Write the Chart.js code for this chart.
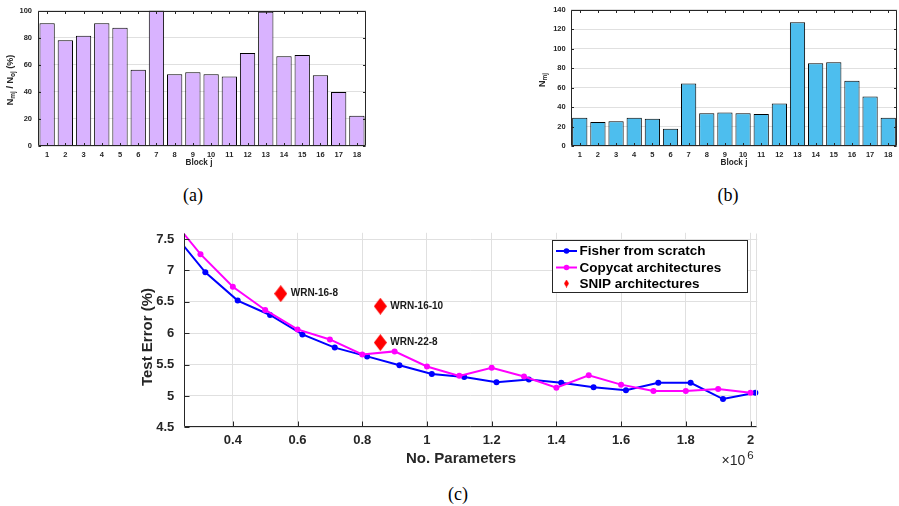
<!DOCTYPE html>
<html>
<head>
<meta charset="utf-8">
<script src="https://cdn.jsdelivr.net/npm/chart.js@4.4.0/dist/chart.umd.min.js"></script>
<style>
  body { margin:0; background:#fff; width:899px; height:506px; position:relative; overflow:hidden; }
  canvas { position:absolute; }
  .cap { position:absolute; font-family:"Liberation Serif","DejaVu Serif",serif; font-size:18px; color:#000; transform:translate(-50%,-50%); }
</style>
</head>
<body>
<canvas id="ca" width="380" height="175" style="left:0;top:0"></canvas>
<canvas id="cb" width="409" height="175" style="left:490px;top:0"></canvas>
<canvas id="cc" width="700" height="265" style="left:100px;top:215px"></canvas>
<div class="cap" style="left:193px;top:195px">(a)</div>
<div class="cap" style="left:728px;top:195px">(b)</div>
<div class="cap" style="left:458px;top:494px">(c)</div>
<script>
// data
const blocks = ['1','2','3','4','5','6','7','8','9','10','11','12','13','14','15','16','17','18'];
const ratioPct = [90.5, 78, 81.3, 90.5, 87.3, 56.2, 100, 53, 54.5, 53, 51.3, 68.6, 99, 66.2, 67.2, 52.3, 39.9, 22.4];
const nmj = [29, 24.5, 25.5, 29, 28, 17.7, 64, 33.7, 34.4, 33.7, 32.7, 43.6, 127, 84.8, 85.8, 67, 50.7, 29];
const ratioTicks = [0, 20, 40, 60, 80, 100];
const nmjTicks = [0, 20, 40, 60, 80, 100, 120, 140];

// x in millions of parameters
const fisherX = [0.215, 0.315, 0.415, 0.515, 0.615, 0.715, 0.815, 0.915, 1.015, 1.115, 1.215, 1.315, 1.415, 1.515, 1.615, 1.715, 1.815, 1.915, 2.015];
const fisherErr = [7.60, 6.97, 6.52, 6.29, 5.98, 5.77, 5.63, 5.49, 5.35, 5.30, 5.22, 5.26, 5.21, 5.14, 5.09, 5.21, 5.21, 4.95, 5.05];
const copycatX = [0.2, 0.3, 0.4, 0.5, 0.6, 0.7, 0.8, 0.9, 1.0, 1.1, 1.2, 1.3, 1.4, 1.5, 1.6, 1.7, 1.8, 1.9, 2.0];
const copycatErr = [7.89, 7.26, 6.74, 6.37, 6.06, 5.90, 5.66, 5.71, 5.47, 5.32, 5.45, 5.31, 5.13, 5.33, 5.18, 5.08, 5.08, 5.11, 5.05];
const snipNames = ['WRN-16-8', 'WRN-16-10', 'WRN-22-8'];
const snipX = [0.548, 0.856, 0.856];
const snipErr = [6.63, 6.43, 5.85];
const xTicksC = [0.4, 0.6, 0.8, 1.0, 1.2, 1.4, 1.6, 1.8, 2.0];
const yTicksC = [4.5, 5, 5.5, 6, 6.5, 7, 7.5];

const AX = '#262626', GRID = '#e0e0e0', FF = '"Liberation Sans", Arial, sans-serif';

// box / axis lines with MATLAB style inward ticks
function frame(box, tl) {
  return {
    id: 'frame',
    afterDatasetsDraw(chart) {
      const {ctx, chartArea: a, scales: {x, y}} = chart;
      const L = Math.round(a.left) + 0.5, R = Math.round(a.right) - 0.5;
      const T = Math.round(a.top) + 0.5, B = Math.round(a.bottom) - 0.5;
      ctx.save();
      if (!box) {
        ctx.strokeStyle = GRID; ctx.lineWidth = 1;
        ctx.beginPath(); ctx.moveTo(R, T); ctx.lineTo(R, B); ctx.stroke();
      }
      ctx.strokeStyle = AX; ctx.lineWidth = 1;
      ctx.beginPath();
      if (box) ctx.rect(L, T, R - L, B - T);
      else { ctx.moveTo(L, T); ctx.lineTo(L, B); ctx.lineTo(R, B); }
      x.ticks.forEach((t, i) => {
        const px = Math.round(x.getPixelForTick(i)) + 0.5;
        ctx.moveTo(px, B); ctx.lineTo(px, B - tl);
        if (box) { ctx.moveTo(px, T); ctx.lineTo(px, T + tl); }
      });
      y.ticks.forEach((t, i) => {
        const py = Math.round(y.getPixelForTick(i)) + 0.5;
        ctx.moveTo(L, py); ctx.lineTo(L + tl, py);
        if (box) { ctx.moveTo(R, py); ctx.lineTo(R - tl, py); }
      });
      ctx.stroke();
      ctx.restore();
    }
  };
}

// free text with sub/superscript parts
function texts(items) {
  return {
    id: 'texts',
    afterDraw(chart) {
      const ctx = chart.ctx;
      items.forEach(it => {
        ctx.save();
        ctx.translate(it.x, it.y);
        if (it.rot) ctx.rotate(it.rot);
        ctx.fillStyle = AX;
        ctx.textBaseline = 'middle';
        ctx.textAlign = 'left';
        let total = 0;
        it.parts.forEach(p => { ctx.font = p.f; total += ctx.measureText(p.t).width + (p.gap || 0); });
        let cx = it.left ? 0 : -total / 2;
        it.parts.forEach(p => {
          ctx.font = p.f;
          cx += p.gap || 0;
          ctx.fillText(p.t, cx, p.dy || 0);
          cx += ctx.measureText(p.t).width;
        });
        ctx.restore();
      });
    }
  };
}

function barChart(id, values, ticks, ymax, fill, yw, padR, lblPad, extra) {
  return new Chart(document.getElementById(id), {
    type: 'bar',
    data: { labels: blocks, datasets: [{ data: values, backgroundColor: fill, borderColor: '#000', borderWidth: 1, barPercentage: 0.84, categoryPercentage: 1 }] },
    options: {
      responsive: false, animation: false,
      layout: { padding: { left: 0, right: padR, top: 9, bottom: 0 } },
      plugins: { legend: { display: false }, tooltip: { enabled: false } },
      scales: {
        x: {
          grid: { display: false, drawTicks: false }, border: { display: false },
          ticks: { color: AX, font: { family: FF, size: 7.5, weight: 'bold' }, padding: 4, maxRotation: 0, autoSkip: false },
          afterFit: s => { s.height = 29; }
        },
        y: {
          min: 0, max: ymax,
          grid: { color: GRID, drawTicks: false }, border: { display: false },
          ticks: { color: AX, font: { family: FF, size: 7.5, weight: 'bold' }, padding: lblPad },
          afterBuildTicks: s => { s.ticks = ticks.map(v => ({ value: v })); },
          afterFit: s => { s.width = yw; }
        }
      }
    },
    plugins: [frame(true, 2.5), texts(extra)]
  });
}

const fb = 'bold 9px ' + FF, fs = 'bold 6.5px ' + FF;
barChart('ca', ratioPct, ratioTicks, 100, '#d9b3ff', 38, 14, 6, [
  { x: 199, y: 163, parts: [{ t: 'Block j', f: 'bold 8.2px ' + FF }] },
  { x: 11, y: 80, rot: -Math.PI / 2, parts: [
    { t: 'N', f: fb }, { t: 'mj', f: fs, dy: 2.5 }, { t: ' / N', f: fb }, { t: 'oj', f: fs, dy: 2.5 }, { t: ' (%)', f: fb }
  ] }
]);
barChart('cb', nmj, nmjTicks, 140, '#4dbeee', 80.7, 1.7, 5, [
  { x: 244, y: 163, parts: [{ t: 'Block j', f: 'bold 8.2px ' + FF }] },
  { x: 53, y: 80, rot: -Math.PI / 2, parts: [{ t: 'N', f: fb }, { t: 'mj', f: fs, dy: 2.5 }] }
]);

function diamond(w, h) {
  const c = document.createElement('canvas'); c.width = w; c.height = h;
  const g = c.getContext('2d'); g.fillStyle = '#ff0000';
  g.beginPath(); g.moveTo(w / 2, 0); g.lineTo(w, h / 2); g.lineTo(w / 2, h); g.lineTo(0, h / 2); g.closePath(); g.fill();
  return c;
}
const bigDiamond = diamond(13, 17), smallDiamond = diamond(5, 8);

const legendC = {
  id: 'legendC',
  afterDraw(chart) {
    const ctx = chart.ctx;
    const bx = 452.5, by = 25.5, bw = 195, bh = 52, rows = [10.5, 27, 43];
    ctx.save();
    ctx.fillStyle = '#fff'; ctx.fillRect(bx, by, bw, bh);
    ctx.strokeStyle = AX; ctx.lineWidth = 1; ctx.strokeRect(bx, by, bw, bh);
    chart.data.datasets.forEach((ds, i) => {
      const cy = by + rows[i];
      if (ds.showLine !== false) {
        ctx.strokeStyle = ds.borderColor; ctx.lineWidth = 2;
        ctx.beginPath(); ctx.moveTo(456, cy); ctx.lineTo(477, cy); ctx.stroke();
        ctx.fillStyle = ds.borderColor;
        ctx.beginPath(); ctx.arc(466.5, cy, 2.8, 0, Math.PI * 2); ctx.fill();
      } else {
        ctx.drawImage(smallDiamond, 464, cy - 4);
      }
      ctx.fillStyle = '#000'; ctx.font = 'bold 13.5px ' + FF;
      ctx.textBaseline = 'middle'; ctx.textAlign = 'left';
      ctx.fillText(ds.label, 479.5, cy + 0.5);
    });
    ctx.restore();
  }
};

const snipLabels = {
  id: 'snipLabels',
  afterDatasetsDraw(chart) {
    const {ctx, scales: {x, y}} = chart;
    ctx.save();
    ctx.fillStyle = '#1a1a1a'; ctx.font = 'bold 10px ' + FF;
    ctx.textBaseline = 'middle'; ctx.textAlign = 'left';
    snipNames.forEach((n, i) => ctx.fillText(n, x.getPixelForValue(snipX[i]) + 10, y.getPixelForValue(snipErr[i])));
    ctx.restore();
  }
};

const pts = (xs, ys) => xs.map((v, i) => ({ x: v, y: ys[i] }));
const ticksFont = { family: FF, size: 13, weight: 'bold' };
new Chart(document.getElementById('cc'), {
  type: 'line',
  data: {
    datasets: [
      { label: 'Fisher from scratch', data: pts(fisherX, fisherErr), borderColor: '#0000ff', backgroundColor: '#0000ff',
        borderWidth: 2, pointRadius: 3, pointBorderWidth: 0, tension: 0, order: 2, clip: { left: 0, top: 0, right: 4, bottom: 0 } },
      { label: 'Copycat architectures', data: pts(copycatX, copycatErr), borderColor: '#ff00ff', backgroundColor: '#ff00ff',
        borderWidth: 2, pointRadius: 3, pointBorderWidth: 0, tension: 0, order: 1, clip: { left: 0, top: 0, right: 4, bottom: 0 } },
      { label: 'SNIP architectures', data: pts(snipX, snipErr), showLine: false, pointStyle: bigDiamond, pointRadius: 8, order: 0 }
    ]
  },
  options: {
    responsive: false, animation: false,
    layout: { padding: { left: 0, right: 42.7, top: 16.4, bottom: 0 } },
    plugins: { legend: { display: false }, tooltip: { enabled: false } },
    scales: {
      x: {
        type: 'linear', min: 0.25, max: 2.021,
        grid: { color: GRID, drawTicks: false }, border: { display: false },
        ticks: { color: AX, font: ticksFont, padding: 5.5, maxRotation: 0, callback: v => String(+v.toFixed(1)) },
        afterBuildTicks: s => { s.ticks = xTicksC.map(v => ({ value: v })); },
        afterFit: s => { s.height = 52.7; }
      },
      y: {
        min: 4.5, max: 7.6,
        grid: { color: GRID, drawTicks: false }, border: { display: false },
        ticks: { color: AX, font: ticksFont, padding: 10, callback: v => String(+v.toFixed(1)) },
        afterBuildTicks: s => { s.ticks = yTicksC.map(v => ({ value: v })); },
        afterFit: s => { s.width = 84.3; }
      }
    }
  },
  plugins: [frame(false, 5), snipLabels, texts([
    { x: 361, y: 244, parts: [{ t: 'No. Parameters', f: 'bold 15px ' + FF }] },
    { x: 47.5, y: 122, rot: -Math.PI / 2, parts: [{ t: 'Test Error (%)', f: 'bold 15px ' + FF }] },
    { x: 621.5, y: 246.5, left: true, parts: [{ t: '×10', f: '14px ' + FF }, { t: '6', f: '11.5px ' + FF, dy: -6, gap: 2 }] }
  ]), legendC]
});
</script>
</body>
</html>
